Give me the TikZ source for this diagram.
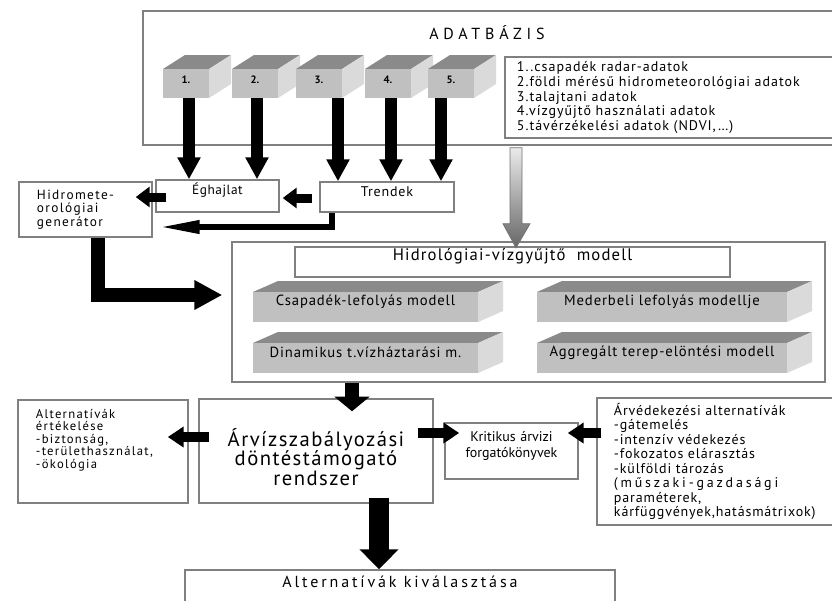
\documentclass[tikz,border=0pt]{standalone}
\usepackage{fontspec}
\setmainfont{PT Sans}
\newcommand\lsp[1]{\addfontfeature{LetterSpace=#1}}
\usepackage{tikz}
\usetikzlibrary{arrows.meta,calc,fit}
\definecolor{rimgray}{RGB}{128,128,128}
\definecolor{topgray}{RGB}{138,138,138}
\definecolor{frontgray}{RGB}{192,192,192}
\definecolor{sidegray}{RGB}{218,218,218}

\tikzset{
  box/.style={draw=rimgray, line width=1.1pt, fill=white, inner sep=0pt},
  face/.style={fill=frontgray, inner sep=0pt},
  cubearrow/.style={line width=9pt, -{Triangle[width=16.5pt,length=16.5pt]}},
  sidearrow/.style={line width=6.75pt, -{Triangle[width=15pt,length=10.5pt]}},
  longarrow/.style={line width=5pt, -{Triangle[width=9pt,length=33pt]}},
  elbowarrow/.style={line width=10.5pt, -{Triangle[width=21pt,length=21pt]}},
  fatarrow/.style={line width=11pt, -{Triangle[width=26pt,length=11pt]}},
  midarrow/.style={line width=7.5pt, -{Triangle[width=15pt,length=12pt]}},
  downarrow/.style={line width=15pt, -{Triangle[width=28.5pt,length=15pt]}}
}

\begin{document}
\begin{tikzpicture}[x=0.75pt, y=-0.75pt, font=\fontsize{9}{10.5}\selectfont]
\useasboundingbox (0,0) rectangle (832,600);
\clip (0,0) rectangle (832,600);

% database with its five sources
\node[box, fit={(143,11) (845,145)}] (adat) {};
\node[font=\fontsize{12}{14}\selectfont\lsp{30}] (adattitle) at (487,33) {ADATBÁZIS};
\foreach \n/\x in {1/163,2/232,3/296,4/365,5/428}{
  \fill[topgray] (\x,69) -- ++(22,-14) -- ++(46,0) -- ++(-22,14) -- cycle;
  \fill[sidegray] (\x+46,69) -- ++(22,-14) -- ++(0,29) -- ++(-22,14) -- cycle;
  \node[face, fit={(\x,69) (\x+46,98)}, font=\fontsize{8}{9}\selectfont\bfseries] (c\n) {\n.};
}
\node[box, fit={(505,57) (845,138)}] (legend) {};
\node[anchor=west, align=left, font=\fontsize{10.5}{11}\selectfont\lsp{7}] (legtext) at ($(legend.west)+(8,0)$)
  {1..csapadék radar-adatok\\2.földi mérésű hidrometeorológiai adatok\\3.talajtani adatok\\4.vízgyűjtő használati adatok\\5.távérzékelési adatok (NDVI,\dots)};

% climate, trends, generator
\node[box, fit={(156,180) (279,212)}, font=\fontsize{10}{12}\selectfont\lsp{4}] (egh) {Éghajlat};
\node[box, fit={(320,182) (454,212)}, font=\fontsize{10.5}{12}\selectfont\lsp{6}] (trend) {Trendek};
\node[box, fit={(19,182) (152,237)}] (gen) {};
\node[anchor=north west, align=left, font=\fontsize{10}{10}\selectfont\lsp{10}] (gentext) at ($(gen.north west)+(14,4)$)
  {Hidromete-\\orológiai\\generátor};

% hydrological model block
\node[box, fit={(232,242) (825,382)}] (hidro) {};
\node[box, fit={(295,247) (730,277)}, font=\fontsize{12.5}{15}\selectfont\lsp{7}] (title) {Hidrológiai-vízgyűjtő\ \ modell};
\foreach \n/\x/\y/\w/\txt in {csap/253/292/225/Csapadék-lefolyás modell,
    meder/537/292/250/Mederbeli lefolyás modellje,
    dinam/253/343/225/Dinamikus t.vízháztarási m.,
    aggr/537/343/250/Aggregált terep-elöntési modell}{
  \fill[topgray] (\x,\y) -- ++(25,-11) -- ++(\w,0) -- ++(-25,11) -- cycle;
  \fill[sidegray] (\x+\w,\y) -- ++(25,-11) -- ++(0,30) -- ++(-25,11) -- cycle;
  \node[face, fit={(\x,\y) (\x+\w,\y+30)}, font=\fontsize{11}{13}\selectfont\lsp{6}] (\n) {\txt};
}

% decision support and its neighbours
\node[box, fit={(199,399) (433,503)}] (arviz) {};
\node[align=center, font=\fontsize{15.5}{14.5}\selectfont\lsp{7}] (arviztext) at ($(arviz.center)+(0,6)$)
  {Árvízszabályozási\\döntéstámogató\\rendszer};
\node[box, fit={(18,400) (188,503)}] (alt) {};
\node[anchor=north west, align=left, font=\fontsize{9.5}{9.4}\selectfont\lsp{10}] (alttext) at ($(alt.north west)+(14,5)$)
  {Alternatívák\\értékelése\\-biztonság,\\-területhasználat,\\-ökológia};
\node[box, fit={(445,423) (578,479)}, align=center, font=\fontsize{10.5}{11.5}\selectfont] (krit)
  {Kritikus árvizi\\forgatókönyvek};
\node[box, fit={(597,398) (845,525)}] (arved) {};
\node[anchor=west, align=left, font=\fontsize{10.5}{10.9}\selectfont\lsp{6}] (arvedtext) at ($(arved.west)+(13,0)$)
  {Árvédekezési alternatívák\\-gátemelés\\-intenzív védekezés\\-fokozatos elárasztás\\-külföldi tározás\\{\lsp{20}(műszaki-gazdasági}\\paraméterek,\\kárfüggvények,hatásmátrixok)};
\node[box, fit={(185,570) (615,620)}] (sel) {};
\node[font=\fontsize{12}{14}\selectfont\lsp{18}] (seltext) at ($(sel.north)+(0,13)$) {Alternatívák kiválasztása};

% arrows
\foreach \n/\dx/\t in {1/3/egh,2/2/egh,3/19/trend,4/3/trend,5/-10/trend}
  \draw[cubearrow] ($(c\n.south)+(\dx,0)$) -- ($(c\n.south |- \t.north)+(\dx,0)$);
\draw[sidearrow] ($(egh.west)+(11,1)$) -- ($(gen.east |- egh.west)+(-17,1)$);
\draw[sidearrow] ($(trend.west)+(-7,1)$) -- ($(egh.east |- trend.west)+(3,1)$);
\draw[longarrow] ($(trend.south)+(-55,0)$) |- ($(gen.east)+(3,17.5)$);
\draw[elbowarrow] ($(gen.south)+(12,0)$) |- ($(hidro.west)+(-9,-17)$);
\coordinate (gtop) at ($(adat.south)+(22,2)$);
\shade[top color=black!8, bottom color=black!60, draw=black!55, line width=0.6pt]
  ($(gtop)+(-6,0)$) -- ++(12,0) -- ++(0,76) -- ++(8,0) -- ++(-14,24) -- ++(-13,-24) -- ++(7,0) -- cycle;
\draw[fatarrow] ($(arviz.north |- hidro.south)+(36,0)$) -- ($(arviz.north)+(36,13)$);
\draw[midarrow] ($(arviz.west)+(11,-14)$) -- ($(alt.east |- arviz.west)+(-21,-14)$);
\draw[midarrow] ($(arviz.east)+(-16,-18)$) -- ($(krit.west |- arviz.east)+(15,-18)$);
\draw[midarrow] ($(arved.west)+(5,-28.5)$) -- ($(krit.east |- arved.west)+(-11,-28.5)$);
\draw[downarrow] ($(arviz.south)+(63,-6)$) -- ($(arviz.south |- sel.north)+(63,0)$);
\end{tikzpicture}
\end{document}
